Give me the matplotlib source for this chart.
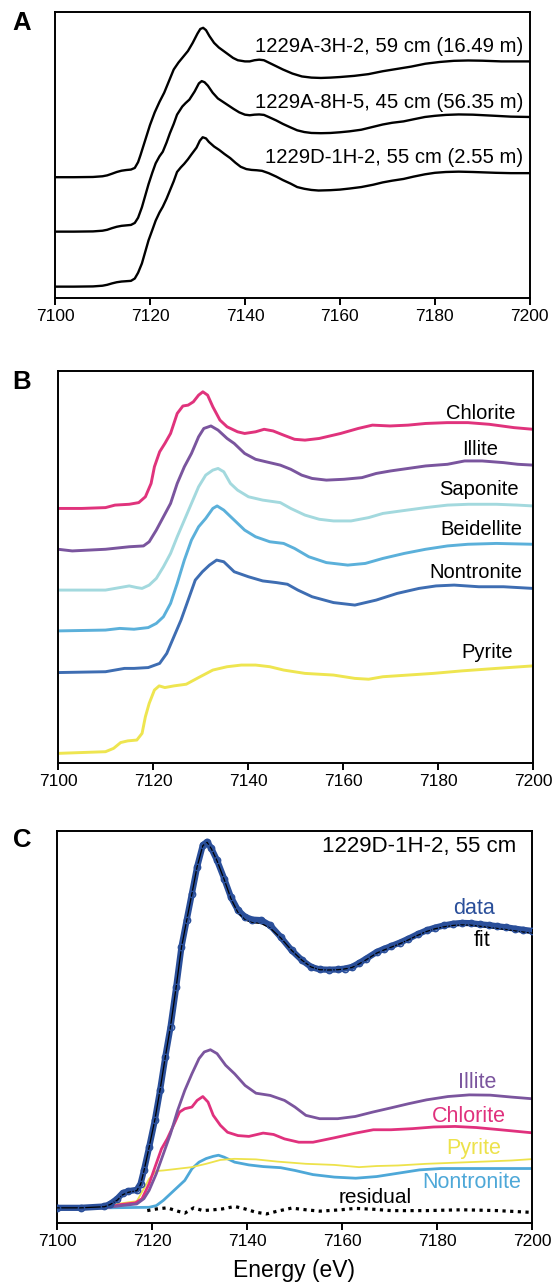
import matplotlib.pyplot as plt
import numpy as np

plt.rcParams['font.family'] = ['Liberation Sans', 'DejaVu Sans']

# ---- panel A: bulk sediment spectra (normalized, stacked) ----
e_3h2 = [7100, 7104, 7108, 7110, 7111, 7112, 7113, 7114, 7115, 7116, 7116.8, 7117.5,
         7118, 7119, 7120, 7121, 7122, 7123, 7124, 7125, 7126, 7127, 7128, 7129,
         7130, 7130.6, 7131.2, 7131.8, 7132.5, 7133.5, 7134.5, 7135.5, 7136.5,
         7137.5, 7138.5, 7140, 7141, 7142, 7143, 7144, 7145, 7146, 7148, 7150,
         7152, 7154, 7156, 7158, 7160, 7163, 7166, 7169, 7172, 7175, 7178, 7181,
         7184, 7187, 7190, 7194, 7200]
mu_3h2 = [0, 0, 0.002, 0.008, 0.016, 0.03, 0.045, 0.056, 0.062, 0.066, 0.08, 0.13,
          0.19, 0.32, 0.45, 0.56, 0.65, 0.73, 0.83, 0.93, 0.99, 1.04, 1.09, 1.16,
          1.24, 1.28, 1.29, 1.27, 1.22, 1.16, 1.12, 1.09, 1.06,
          1.03, 1.01, 1.00, 1.00, 1.01, 1.015, 1.01, 0.99, 0.97, 0.93, 0.895,
          0.87, 0.86, 0.857, 0.86, 0.865, 0.875, 0.89, 0.915, 0.935, 0.955, 0.98, 0.995,
          1.005, 1.008, 1.006, 1.0, 1.0]

e_8h5 = [7100, 7104, 7108, 7110, 7111, 7112, 7113, 7114, 7115, 7116, 7116.8, 7117.5,
         7118.3, 7119, 7119.7, 7120.5, 7121.2, 7122, 7122.7, 7123.5, 7124.2, 7125,
         7125.7, 7126.8, 7127.5, 7128.3, 7129.4, 7130.3, 7130.9, 7131.5, 7132.2,
         7133.2, 7134.3, 7135.4, 7136.5, 7137.6, 7138.8, 7140, 7141, 7142, 7143,
         7144, 7145, 7146.6, 7148, 7149.6, 7151, 7152.5, 7154, 7156, 7158, 7160,
         7162, 7164.5, 7167, 7169, 7171, 7173.4, 7175.5, 7177.9, 7180, 7182.3,
         7185, 7188, 7192.8, 7196, 7200]
mu_8h5 = [0, 0, 0.002, 0.008, 0.016, 0.03, 0.042, 0.05, 0.054, 0.058, 0.075, 0.12,
          0.21, 0.31, 0.41, 0.51, 0.59, 0.65, 0.69, 0.77, 0.85, 0.93,
          1.01, 1.08, 1.11, 1.14, 1.21, 1.28, 1.30, 1.29, 1.26,
          1.20, 1.15, 1.12, 1.09, 1.06, 1.03, 1.01, 1.005, 1.01, 1.012,
          1.008, 0.99, 0.96, 0.93, 0.90, 0.875, 0.86, 0.852, 0.85, 0.852, 0.858,
          0.866, 0.88, 0.905, 0.925, 0.94, 0.952, 0.97, 0.99, 1.0, 1.008,
          1.012, 1.01, 1.0, 0.993, 0.99]

e_1h2 = [7100, 7104, 7108, 7110, 7111, 7112, 7113, 7114, 7115, 7116, 7116.8, 7117.5,
         7118.3, 7119, 7119.7, 7120.5, 7121.2, 7122, 7122.7, 7123.5, 7124.2, 7125,
         7125.7, 7126.5, 7127.2, 7128, 7128.7, 7129.8, 7130.5, 7131.1, 7131.8,
         7132.4, 7133.5, 7134.6, 7135.7, 7136.9, 7138, 7139.1, 7140.3, 7141.4,
         7142.5, 7143.6, 7145, 7146.6, 7148, 7149.6, 7151, 7152.5, 7154, 7155.5,
         7158, 7160, 7162, 7164.5, 7167, 7169, 7171, 7173.4, 7175.5, 7177.9, 7180,
         7182.3, 7185, 7188, 7192.8, 7196, 7200]
mu_1h2 = [0, 0, 0.002, 0.008, 0.016, 0.028, 0.038, 0.044, 0.047, 0.05, 0.07, 0.12,
          0.20, 0.30, 0.40, 0.49, 0.57, 0.64, 0.69, 0.76, 0.83, 0.91,
          0.99, 1.03, 1.06, 1.10, 1.14, 1.20, 1.26, 1.29, 1.28,
          1.25, 1.21, 1.18, 1.145, 1.11, 1.07, 1.035, 1.015, 1.008,
          1.005, 1.0, 0.98, 0.95, 0.92, 0.89, 0.86, 0.845, 0.835, 0.83,
          0.833, 0.838, 0.847, 0.86, 0.88, 0.90, 0.915, 0.93, 0.95, 0.97, 0.983,
          0.99, 0.993, 0.99, 0.983, 0.98, 0.98]

samples = ['1229A-3H-2, 59 cm (16.49 m)', '1229A-8H-5, 45 cm (56.35 m)',
           '1229D-1H-2, 55 cm (2.55 m)']
offsets_a = [0.945, 0.475, 0.0]
label_y_a = [2.07, 1.594, 1.118]

# ---- panel B: reference minerals (normalized, stacked) ----
e_chl = [7100, 7105, 7110, 7112, 7115, 7117, 7118.4, 7119.6, 7120.3, 7121.4, 7122.5,
         7123.7, 7125.1, 7126.3, 7127.4, 7128.5, 7129.6, 7130.5, 7131.5, 7132.6,
         7134.1, 7135.6, 7137.8, 7139.3, 7141.6, 7143.4, 7145.3, 7147.5, 7149.8,
         7152, 7155, 7159.5, 7163.2, 7166.2, 7169.9, 7173.7, 7177.4, 7181.9,
         7186.3, 7190.8, 7196, 7200]
mu_chl = [0, 0, 0.01, 0.04, 0.05, 0.07, 0.14, 0.30, 0.50, 0.68, 0.78,
          0.90, 1.14, 1.23, 1.24, 1.28, 1.36, 1.40, 1.36, 1.22,
          1.06, 0.98, 0.92, 0.90, 0.92, 0.95, 0.93, 0.88, 0.83,
          0.82, 0.84, 0.90, 0.96, 1.00, 0.99, 1.00, 1.02, 1.03,
          1.03, 1.01, 0.97, 0.95]

e_ill = [7100, 7103, 7110, 7115, 7118, 7119.2, 7120.7, 7122.2, 7123.7, 7125.1,
         7126.6, 7128.1, 7129.6, 7130.7, 7132.2, 7133.7, 7135.6, 7137.1, 7139.3,
         7141.6, 7143.8, 7146.8, 7149, 7151.3, 7153.5, 7156.5, 7160.2, 7164, 7167,
         7170, 7173.7, 7177.4, 7182, 7185.6, 7189.3, 7193.8, 7196.8, 7200]
mu_ill = [0.01, -0.01, 0.01, 0.04, 0.05, 0.10, 0.24, 0.40, 0.56, 0.80,
          1.00, 1.16, 1.36, 1.46, 1.49, 1.44, 1.34, 1.28, 1.16,
          1.09, 1.06, 1.02, 0.97, 0.90, 0.86, 0.84, 0.85, 0.87, 0.92,
          0.95, 0.98, 1.01, 1.03, 1.07, 1.07, 1.05, 1.03, 1.02]

e_sap = [7100, 7110, 7113, 7115, 7116.6, 7117.7, 7119.2, 7120.7, 7122.2, 7123.7,
         7125.1, 7126.6, 7128.1, 7129.6, 7131.1, 7132.6, 7133.7, 7134.9, 7136.3,
         7137.8, 7140.1, 7143.1, 7146.8, 7149, 7152, 7155, 7158, 7161.7, 7165.4,
         7168.4, 7172.2, 7177.4, 7182, 7186.4, 7192.3, 7196.8, 7200]
mu_sap = [0, 0, 0.03, 0.05, 0.03, 0.02, 0.06, 0.14, 0.28, 0.44,
          0.64, 0.84, 1.04, 1.24, 1.38, 1.44, 1.46, 1.42, 1.28,
          1.20, 1.12, 1.08, 1.05, 0.98, 0.90, 0.85, 0.83, 0.83, 0.87,
          0.92, 0.95, 0.99, 1.02, 1.03, 1.03, 1.02, 1.01]

e_bei = [7100, 7110, 7113, 7116, 7119, 7120.7, 7122.2, 7123.7, 7125.1, 7126.6,
         7128.1, 7129.6, 7131.1, 7132.6, 7133.5, 7134.9, 7137.1, 7139.3, 7141.6,
         7144.6, 7147.5, 7149.8, 7152.8, 7156.5, 7161, 7164.7, 7168.4, 7172.9,
         7177.4, 7182, 7186.3, 7192.3, 7200]
mu_bei = [0, 0.01, 0.03, 0.02, 0.04, 0.09, 0.17, 0.33, 0.57, 0.85,
          1.09, 1.25, 1.35, 1.47, 1.50, 1.45, 1.33, 1.21, 1.13,
          1.07, 1.05, 0.99, 0.89, 0.82, 0.79, 0.81, 0.87, 0.93,
          0.98, 1.02, 1.04, 1.05, 1.04]

e_non = [7100, 7110, 7114, 7116, 7119, 7121.4, 7122.9, 7124.4, 7125.9, 7127.4,
         7128.9, 7130.4, 7131.9, 7133.4, 7134.9, 7137.1, 7140.1, 7143.1, 7146,
         7148.3, 7150.5, 7153.5, 7158, 7162.5, 7167, 7171.4, 7176, 7179.6,
         7183.4, 7188.6, 7193.8, 7200]
mu_non = [0, 0.01, 0.05, 0.05, 0.06, 0.11, 0.23, 0.43, 0.63, 0.87,
          1.11, 1.21, 1.29, 1.35, 1.33, 1.21, 1.15, 1.10, 1.08,
          1.06, 0.99, 0.91, 0.84, 0.81, 0.87, 0.95, 1.01, 1.04,
          1.05, 1.03, 1.03, 1.01]

e_pyr = [7100, 7110, 7111.7, 7113.2, 7114.7, 7116.6, 7117.7, 7118.4, 7119.2, 7120.3,
         7121.3, 7122.5, 7124.4, 7127, 7129.6, 7132.6, 7135.6, 7138.6, 7141.6,
         7144.6, 7147.5, 7152, 7158, 7162.5, 7165.4, 7168.4, 7173.7, 7179, 7185,
         7192.3, 7200]
mu_pyr = [0, 0.02, 0.06, 0.13, 0.15, 0.16, 0.24, 0.44, 0.60, 0.76,
          0.81, 0.79, 0.81, 0.83, 0.91, 1.00, 1.04, 1.06, 1.06,
          1.04, 1.00, 0.96, 0.94, 0.90, 0.89, 0.92, 0.94, 0.96, 0.99,
          1.02, 1.05]

minerals = ['Chlorite', 'Illite', 'Saponite', 'Beidellite', 'Nontronite', 'Pyrite']
offsets_b = [2.94, 2.44, 1.96, 1.47, 0.97, 0.0]
label_x_b = [7196.4, 7192.7, 7197.0, 7197.8, 7197.8, 7195.7]
label_y_b = [4.08, 3.65, 3.17, 2.69, 2.17, 1.21]
colors_b = ['#E0337C', '#7A559E', '#A3D9DE', '#5BB0DA', '#3E6DB2', '#EEE550']

# ---- panel C: linear combination fit of 1229D-1H-2, 55 cm ----
e_data = [7100, 7105, 7110, 7111.2, 7112.7, 7113.8, 7115, 7116.8, 7117.6, 7118.3,
          7119.4, 7120.6, 7121.7, 7122.8, 7123.9, 7125.1, 7126.2, 7127.3, 7128.4,
          7129.5, 7130.7, 7131.6, 7132.5, 7133.7, 7135.2, 7136.6, 7138.1, 7139.6,
          7141.1, 7143, 7144.9, 7147.1, 7149.4, 7151.6, 7153.5, 7155.3, 7157.2,
          7159.1, 7160.6, 7162.1, 7163.6, 7165.1, 7167.3, 7168.8, 7170.3, 7172.2,
          7174, 7175.9, 7177.8, 7179.6, 7181.5, 7183.4, 7185.3, 7187.1, 7189,
          7190.9, 7192.7, 7194.6, 7196.5, 7198.2, 7200]
mu_data = [0, 0, 0.005, 0.014, 0.033, 0.053, 0.060, 0.065, 0.087, 0.135,
           0.219, 0.316, 0.424, 0.545, 0.653, 0.798, 0.942, 1.039, 1.135,
           1.231, 1.310, 1.322, 1.298, 1.255, 1.189, 1.123, 1.075, 1.051,
           1.041, 1.039, 1.020, 0.978, 0.930, 0.894, 0.870, 0.861, 0.860,
           0.861, 0.864, 0.870, 0.884, 0.900, 0.924, 0.935, 0.945, 0.958,
           0.972, 0.988, 1.002, 1.012, 1.020, 1.026, 1.029, 1.028, 1.024,
           1.021, 1.017, 1.013, 1.008, 1.004, 1.000]
mu_fit = [0, 0, 0.004, 0.012, 0.028, 0.047, 0.056, 0.062, 0.085, 0.133,
          0.219, 0.318, 0.426, 0.545, 0.655, 0.799, 0.940, 1.038, 1.134,
          1.232, 1.308, 1.320, 1.297, 1.253, 1.186, 1.118, 1.066, 1.040,
          1.030, 1.027, 1.010, 0.975, 0.930, 0.894, 0.870, 0.860, 0.859,
          0.860, 0.863, 0.868, 0.881, 0.896, 0.920, 0.931, 0.941, 0.954,
          0.968, 0.984, 0.998, 1.008, 1.015, 1.020, 1.022, 1.021, 1.017,
          1.013, 1.009, 1.005, 1.000, 0.996, 0.992]

e_c_ill = [7100, 7110, 7113.5, 7116.8, 7118.3, 7119.4, 7120.9, 7122.4, 7123.9, 7125.4,
           7126.9, 7128.4, 7129.9, 7131, 7132.3, 7133.7, 7135.5, 7137.4, 7139.6,
           7141.9, 7144.9, 7147.9, 7150.1, 7152.4, 7155.3, 7159.1, 7162.8, 7166.5,
           7170.3, 7174, 7177.8, 7182.3, 7186.8, 7191.2, 7195.7, 7200]
c_ill = [0, 0, 0.008, 0.014, 0.033, 0.063, 0.123, 0.195, 0.267, 0.352,
         0.424, 0.484, 0.539, 0.563, 0.571, 0.557, 0.515, 0.484, 0.442,
         0.414, 0.406, 0.388, 0.364, 0.334, 0.322, 0.322, 0.330, 0.346,
         0.361, 0.376, 0.390, 0.402, 0.408, 0.407, 0.400, 0.394]

e_c_chl = [7100, 7110.5, 7113.5, 7116.5, 7117.9, 7119.4, 7120.9, 7122, 7123.2, 7124.7,
           7125.8, 7126.9, 7128.4, 7129.5, 7130.7, 7131.8, 7132.9, 7134.4, 7135.9,
           7138.1, 7140.4, 7143.4, 7145.6, 7147.9, 7150.9, 7153.9, 7158.4, 7162.9,
           7166.6, 7170.3, 7174.8, 7179.3, 7183.8, 7188.3, 7192.7, 7200]
c_chl = [0, 0.002, 0.012, 0.018, 0.033, 0.087, 0.160, 0.213, 0.249, 0.304,
         0.346, 0.358, 0.364, 0.388, 0.402, 0.382, 0.334, 0.298, 0.273,
         0.261, 0.258, 0.270, 0.265, 0.249, 0.237, 0.237, 0.253, 0.270,
         0.282, 0.282, 0.286, 0.292, 0.294, 0.290, 0.283, 0.271]

e_c_pyr = [7100, 7110.5, 7112.7, 7115, 7116.8, 7117.9, 7119.4, 7120.9, 7122.4, 7125.4,
           7128.4, 7131.4, 7134.4, 7137.4, 7141.9, 7146.4, 7152.4, 7158.4, 7163.6,
           7167.3, 7171.8, 7177.8, 7183.8, 7189.8, 7195.7, 7200]
c_pyr = [0, 0.002, 0.014, 0.020, 0.024, 0.057, 0.105, 0.133, 0.135, 0.141,
         0.147, 0.159, 0.173, 0.177, 0.175, 0.167, 0.159, 0.155, 0.147,
         0.151, 0.153, 0.159, 0.163, 0.167, 0.171, 0.176]

e_c_non = [7100, 7110.5, 7119.4, 7120.9, 7122.4, 7123.9, 7125.4, 7126.9, 7128.4, 7129.9,
           7131.4, 7132.9, 7134, 7135.2, 7137.4, 7140.4, 7143.4, 7147.1, 7150.1,
           7153.9, 7158.4, 7162.9, 7167.3, 7171.8, 7176.3, 7180.8, 7185.3, 7192.7, 7200]
c_non = [0, 0, 0.002, 0.008, 0.027, 0.051, 0.075, 0.099, 0.141, 0.165,
         0.178, 0.186, 0.190, 0.183, 0.165, 0.155, 0.149, 0.145, 0.135,
         0.120, 0.111, 0.107, 0.113, 0.125, 0.137, 0.142, 0.142, 0.142, 0.142]

e_resid = [7119, 7121, 7123.2, 7125.4, 7126.9, 7128.8, 7130.7, 7132.9, 7134.8, 7137.4,
           7139.6, 7141.9, 7144.1, 7146.4, 7149.4, 7152.4, 7155.3, 7159.8, 7162.8,
           7166.5, 7170.3, 7177.8, 7185.3, 7192.7, 7199.5]
resid = [-0.010, -0.004, 0.0, -0.012, -0.019, 0.0, -0.010, -0.007, -0.004, 0.005,
         -0.004, -0.016, -0.022, -0.012, -0.001, -0.007, -0.012, -0.007, -0.002,
         -0.005, -0.010, -0.010, -0.007, -0.010, -0.016]

blue_data = '#2A4F9A'
c_colors = {'Illite': '#7B559E', 'Chlorite': '#E0317D',
            'Pyrite': '#EDE24B', 'Nontronite': '#4EA8D8'}

fig = plt.figure(figsize=(5.56, 12.85), dpi=100)
axA = fig.add_axes([0.0989, 0.7681, 0.8541, 0.2226])
axB = fig.add_axes([0.1043, 0.4062, 0.8543, 0.3051])
axC = fig.add_axes([0.1025, 0.0482, 0.8543, 0.3051])

for ax in (axA, axB, axC):
    ax.set_xlim(7100, 7200)
    ax.set_xticks(np.arange(7100, 7201, 20))
    ax.set_yticks([])
    for s in ax.spines.values():
        s.set_linewidth(1.4)
    ax.tick_params(axis='x', direction='out', length=5, width=1.4,
                   labelsize=12.5, pad=3)

# A
for e, mu, off, lab, ly in zip([e_3h2, e_8h5, e_1h2], [mu_3h2, mu_8h5, mu_1h2],
                               offsets_a, samples, label_y_a):
    axA.plot(e, np.array(mu) + off, color='black', lw=1.7, solid_joinstyle='round')
    axA.text(7198.6, ly, lab, ha='right', va='center', fontsize=14.6)
axA.set_ylim(-0.098, 2.372)

# B
b_series = [(e_chl, mu_chl), (e_ill, mu_ill), (e_sap, mu_sap),
            (e_bei, mu_bei), (e_non, mu_non), (e_pyr, mu_pyr)]
for (e, mu), off, name, lx, ly, col in zip(b_series, offsets_b, minerals,
                                            label_x_b, label_y_b, colors_b):
    axB.plot(e, np.array(mu) + off, color=col, lw=2.1, solid_joinstyle='round')
    axB.text(lx, ly, name, ha='right', va='center', fontsize=14.5)
axB.set_ylim(-0.116, 4.59)

# C
axC.plot(e_c_non, c_non, color=c_colors['Nontronite'], lw=2.0)
axC.plot(e_c_pyr, c_pyr, color=c_colors['Pyrite'], lw=1.3)
axC.plot(e_c_chl, c_chl, color=c_colors['Chlorite'], lw=2.0)
axC.plot(e_c_ill, c_ill, color=c_colors['Illite'], lw=2.0)
axC.plot(e_resid, resid, color='black', lw=2.3, linestyle=(0, (1, 1.4)))
axC.plot(e_data, mu_data, color=blue_data, lw=4.5, zorder=3, solid_joinstyle='round')
axC.plot(e_data, mu_fit, color='black', lw=0.9, zorder=4)
axC.plot(e_data, mu_data, 'o', mfc='none', mec=blue_data, ms=4.6, mew=1.0, zorder=5)

axC.text(7196.6, 1.304, '1229D-1H-2, 55 cm', ha='right', va='center', fontsize=16)
axC.text(7192.1, 1.081, 'data', ha='right', va='center', fontsize=15.5, color=blue_data)
axC.text(7191.2, 0.964, 'fit', ha='right', va='center', fontsize=15.5, color='black')
axC.text(7192.5, 0.451, 'Illite', ha='right', va='center', fontsize=15.5, color=c_colors['Illite'])
axC.text(7194.5, 0.330, 'Chlorite', ha='right', va='center', fontsize=15.5, color=c_colors['Chlorite'])
axC.text(7193.6, 0.213, 'Pyrite', ha='right', va='center', fontsize=15.5, color=c_colors['Pyrite'])
axC.text(7197.8, 0.093, 'Nontronite', ha='right', va='center', fontsize=15.5, color=c_colors['Nontronite'])
axC.text(7174.6, 0.036, 'residual', ha='right', va='center', fontsize=15, color='black')
axC.set_ylim(-0.055, 1.361)
axC.set_xlabel('Energy (eV)', fontsize=16.5, labelpad=7)

for lab, yy in zip(['A', 'B', 'C'], [23, 382, 840]):
    fig.text(22 / 556, 1 - yy / 1285, lab, ha='center', va='center',
             fontsize=18.5, fontweight='bold')

fig.savefig('out.png', dpi=100)
